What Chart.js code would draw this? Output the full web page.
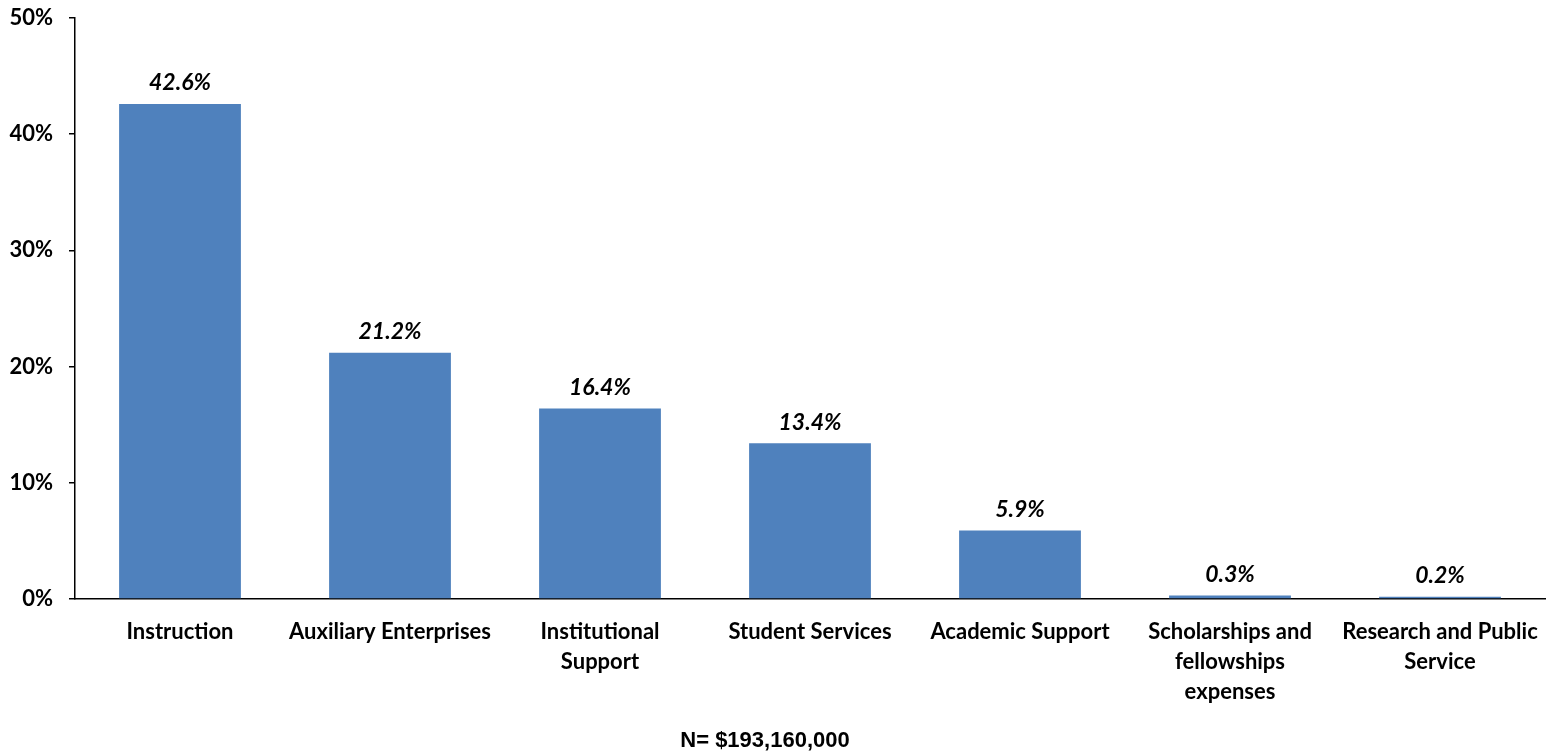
<!DOCTYPE html>
<html>
<head>
<meta charset="utf-8">
<script src="https://cdn.jsdelivr.net/npm/chart.js@4/dist/chart.umd.min.js"></script>
<style>
  html, body { margin: 0; padding: 0; background: #fff; }
  #wrap { width: 1549px; height: 755px; position: relative; }
</style>
</head>
<body>
<div id="wrap"><canvas id="c" width="1549" height="755"></canvas></div>
<script>
const categories = [
  "Instruction",
  "Auxiliary Enterprises",
  ["Institutional", "Support"],
  "Student Services",
  "Academic Support",
  ["Scholarships and", "fellowships", "expenses"],
  ["Research and Public", "Service"]
];
const values = [42.6, 21.2, 16.4, 13.4, 5.9, 0.3, 0.2];
const yTicks = [0, 10, 20, 30, 40, 50];
const footerText = "N= $193,160,000";

const labelFont = "Lato, 'Open Sans', sans-serif";

const dataLabelPlugin = {
  id: 'dataLabels',
  afterDatasetsDraw(chart) {
    const ctx = chart.ctx;
    const meta = chart.getDatasetMeta(0);
    ctx.save();
    ctx.font = "italic bold 23px " + labelFont;
    ctx.fillStyle = "#000";
    ctx.textAlign = "center";
    ctx.textBaseline = "middle";
    meta.data.forEach((bar, i) => {
      ctx.fillText(values[i].toFixed(1) + "%", bar.x, bar.y - 21);
    });
    ctx.restore();
  }
};

const footerPlugin = {
  id: 'footerText',
  afterDraw(chart) {
    const ctx = chart.ctx;
    ctx.save();
    ctx.font = "bold 22px 'Liberation Sans', Arial, sans-serif";
    ctx.fillStyle = "#000";
    ctx.textAlign = "center";
    ctx.textBaseline = "middle";
    ctx.fillText(footerText, 765, 741);
    ctx.restore();
  }
};

new Chart(document.getElementById('c'), {
  type: 'bar',
  data: {
    labels: categories,
    datasets: [{
      data: values,
      backgroundColor: '#4F81BD',
      borderWidth: 0,
      categoryPercentage: 0.58,
      barPercentage: 1.0
    }]
  },
  options: {
    responsive: false,
    animation: false,
    maintainAspectRatio: false,
    layout: { padding: { top: 18, right: 4, left: 0, bottom: 0 } },
    plugins: {
      legend: { display: false },
      tooltip: { enabled: false },
      title: { display: false }
    },
    scales: {
      x: {
        grid: { display: false, drawTicks: false },
        border: { display: true, color: '#000', width: 1.5 },
        ticks: {
          color: '#000',
          font: { family: labelFont, weight: 'bold', size: 22, lineHeight: 1.36 },
          padding: 18,
          maxRotation: 0,
          autoSkip: false
        },
        afterFit(scale) { scale.height = 156; scale.paddingLeft = 0; scale.paddingRight = 0; }
      },
      y: {
        min: 0,
        max: 50,
        afterBuildTicks(scale) { scale.ticks = yTicks.map(v => ({ value: v })); },
        grid: {
          display: true,
          drawOnChartArea: false,
          drawTicks: true,
          tickLength: 6,
          color: '#000',
          lineWidth: 1.5
        },
        border: { display: true, color: '#000', width: 1.5 },
        ticks: {
          color: '#000',
          font: { family: labelFont, weight: 'bold', size: 22 },
          padding: 16,
          callback: v => v + '%'
        },
        afterFit(scale) { scale.width = 75; scale.paddingTop = 0; scale.paddingBottom = 0; }
      }
    }
  },
  plugins: [dataLabelPlugin, footerPlugin]
});
</script>
</body>
</html>
